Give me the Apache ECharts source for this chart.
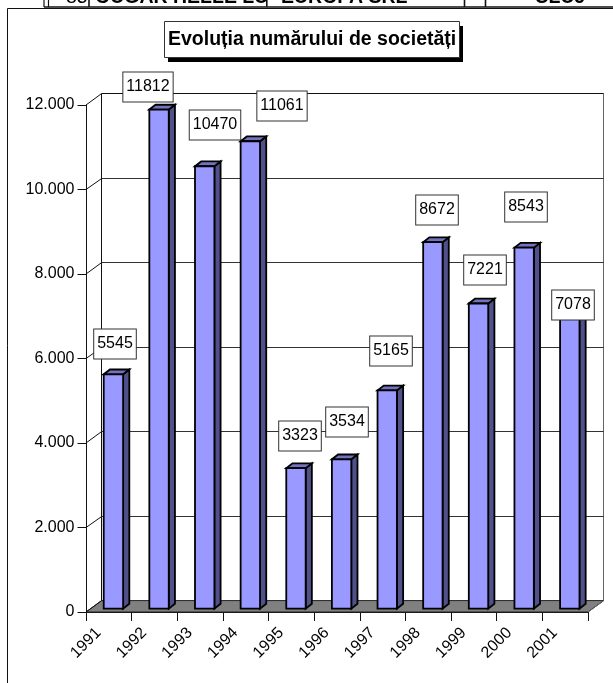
<!DOCTYPE html>
<html>
<head>
<meta charset="utf-8">
<style>html,body{margin:0;padding:0;background:#fff}#c{width:613px;height:683px}</style>
<script src="https://cdn.jsdelivr.net/npm/echarts@6/dist/echarts.min.js"></script>
</head>
<body>
<div id="c"></div>
<script>
var titleText = 'Evoluția numărului de societăți';
var years = ['1991','1992','1993','1994','1995','1996','1997','1998','1999','2000','2001'];
var societies = [5545,11812,10470,11061,3323,3534,5165,8672,7221,8543,7078];
var yTicks = [0,2000,4000,6000,8000,10000,12000];
var tableCells = ['85','OUGAR HELLE LU','EUROPA SRL','CLUJ'];

// layout only
var labelOffsets = [[1.8,-30.5],[-11.4,-22.3],[10.3,-41],[31.2,-35.6],[3.7,-32.2],[5.6,-37.3],[4.2,-39.1],[4.1,-32.2],[6.2,-33.8],[1.8,-40.9],[2.9,-4.6]];
var FONT = '"Liberation Sans", Arial, sans-serif';
var WALL_DX = 15.7, WALL_DY = -11.4;
var BAR_SHIFT_X = 4.6, BAR_SHIFT_Y = -3.4, BAR_W = 19.4, BAR_DX = 6.2, BAR_DY = -4.8;

function snap(v){ return Math.floor(v) + 0.5; }

function renderWall(params, api){
  var children = [];
  var l0 = api.coord([0, 0]), r0 = api.coord([years.length, 0]), lt = api.coord([0, yTicks[yTicks.length-1]]);
  children.push({type:'polygon', shape:{points:[[l0[0],l0[1]],[l0[0]+WALL_DX,l0[1]+WALL_DY],[r0[0]+WALL_DX,r0[1]+WALL_DY],[r0[0],r0[1]]]},
    style:{fill:'#808080', stroke:'#222', lineWidth:1}});
  children.push({type:'line', shape:{x1:snap(l0[0]+WALL_DX),y1:lt[1]+WALL_DY,x2:snap(l0[0]+WALL_DX),y2:l0[1]+WALL_DY},style:{stroke:'#111',lineWidth:1}});
  children.push({type:'line', shape:{x1:snap(r0[0]+WALL_DX),y1:lt[1]+WALL_DY,x2:snap(r0[0]+WALL_DX),y2:l0[1]+WALL_DY},style:{stroke:'#666',lineWidth:1}});
  children.push({type:'line', shape:{x1:r0[0],y1:r0[1],x2:r0[0]+WALL_DX,y2:r0[1]+WALL_DY},style:{stroke:'#666',lineWidth:1}});
  yTicks.forEach(function(t){
    var a = api.coord([0, t]), b = api.coord([years.length, t]);
    var y = snap(a[1]+WALL_DY);
    children.push({type:'line', shape:{x1:a[0],y1:a[1],x2:a[0]+WALL_DX,y2:y},style:{stroke:'#111',lineWidth:1}});
    if (t > 0) children.push({type:'line', shape:{x1:a[0]+WALL_DX,y1:y,x2:b[0]+WALL_DX,y2:y},style:{stroke:t===yTicks[yTicks.length-1]?'#111':'#333',lineWidth:1}});
  });
  return {type:'group', children:children};
}

function barFrontCenter(api, i, v){
  var a = api.coord([i, v]), b = api.coord([i+1, v]);
  return [(a[0]+b[0])/2 + BAR_SHIFT_X, a[1] + BAR_SHIFT_Y];
}

function renderBar(params, api){
  var i = api.value(0), v = api.value(1);
  var top = barFrontCenter(api, i, v), base = barFrontCenter(api, i, 0);
  var x0 = top[0]-BAR_W/2, x1 = top[0]+BAR_W/2, yt = top[1], yb = base[1];
  var line = {stroke:'#000', lineWidth:1.8, lineJoin:'miter'};
  return {type:'group', children:[
    {type:'polygon', shape:{points:[[x1,yt],[x1+BAR_DX,yt+BAR_DY],[x1+BAR_DX,yb+BAR_DY],[x1,yb]]}, style:Object.assign({fill:'#50508a'},line)},
    {type:'polygon', shape:{points:[[x0,yt],[x0+BAR_DX,yt+BAR_DY],[x1+BAR_DX,yt+BAR_DY],[x1,yt]]}, style:Object.assign({fill:'#7272bf'},line)},
    {type:'rect', shape:{x:x0,y:yt,width:BAR_W,height:yb-yt}, style:Object.assign({fill:'#9999ff'},line)}
  ]};
}

function renderLabel(params, api){
  var i = api.value(0), v = api.value(1);
  var p = barFrontCenter(api, i, v), o = labelOffsets[i];
  return {type:'text', x:Math.round(p[0]+o[0]), y:Math.round(p[1]+o[1]), style:{
    text:String(v), font:'16px '+FONT, fill:'#000', align:'center', verticalAlign:'middle',
    backgroundColor:'#fff', borderColor:'#333', borderWidth:1, padding:[7,3], lineHeight:15
  }};
}

var rows = societies.map(function(v,i){ return [i,v]; });
var chart = echarts.init(document.getElementById('c'), null, {renderer:'canvas'});

function hline(x1,y,x2,w){ return {type:'line',shape:{x1:x1,y1:y,x2:x2,y2:y},style:{stroke:'#111',lineWidth:w||1},z:5}; }
function vline(x,y1,y2,w){ return {type:'line',shape:{x1:x,y1:y1,x2:x,y2:y2},style:{stroke:'#111',lineWidth:w||1},z:5}; }
function cellText(s,x,align,weight){ return {type:'text',x:x,y:8,style:{text:s,font:(weight||'bold')+' 19.5px '+FONT,fill:'#000',align:align||'left',verticalAlign:'bottom'},z:5}; }

chart.setOption({
  animation:false,
  backgroundColor:'#fff',
  title:{
    text:titleText, left:164, top:22,
    padding:[8,4,8,4],
    backgroundColor:'#fff', borderColor:'#333', borderWidth:1,
    textStyle:{fontFamily:FONT, fontSize:19.5, fontWeight:'bold', color:'#000', lineHeight:19}
  },
  grid:{left:86, right:25, top:105, bottom:71, containLabel:false},
  xAxis:{
    type:'category', boundaryGap:false, data:years.concat(['']),
    axisLine:{lineStyle:{color:'#111',width:1}},
    axisTick:{show:true,length:9,inside:false,lineStyle:{color:'#111',width:1}},
    axisLabel:{interval:0,rotate:45,align:'center',verticalAlign:'middle',margin:31,color:'#000',fontFamily:FONT,fontSize:16},
    splitLine:{show:false}
  },
  yAxis:{
    type:'value', min:0, max:12000, interval:2000,
    axisLine:{show:true,lineStyle:{color:'#111',width:1}},
    axisTick:{show:true,length:8.5,lineStyle:{color:'#111',width:1}},
    axisLabel:{margin:11.5,color:'#000',fontFamily:FONT,fontSize:16,
      formatter:function(v){ return v===0 ? '0' : (v/1000)+'.000'; }},
    splitLine:{show:false}
  },
  series:[
    {type:'custom',z:1,renderItem:renderWall,data:[[0,0]],silent:true,clip:false},
    {type:'custom',z:2,renderItem:renderBar,data:rows,encode:{x:0,y:1},clip:false},
    {type:'custom',z:3,renderItem:renderLabel,data:rows,encode:{x:0,y:1},clip:false}
  ],
  graphic:{elements:[
    {type:'rect',shape:{x:168,y:26,width:295,height:36},style:{fill:'#000'},z:4},
    hline(7.5,8.5,613), vline(7.5,8.5,683),
    hline(44,7,613,1.6),
    vline(44,0,7,1.2), vline(48.5,0,7,1.2), vline(89,0,7,1.6), vline(266.8,0,7,1.6), vline(464.5,0,7,1.6), vline(485.5,0,7,1.6),
    cellText(tableCells[0],66,'left','normal'), cellText(tableCells[1],95), cellText(tableCells[2],281), cellText(tableCells[3],560,'center')
  ]}
});
</script>
</body>
</html>
